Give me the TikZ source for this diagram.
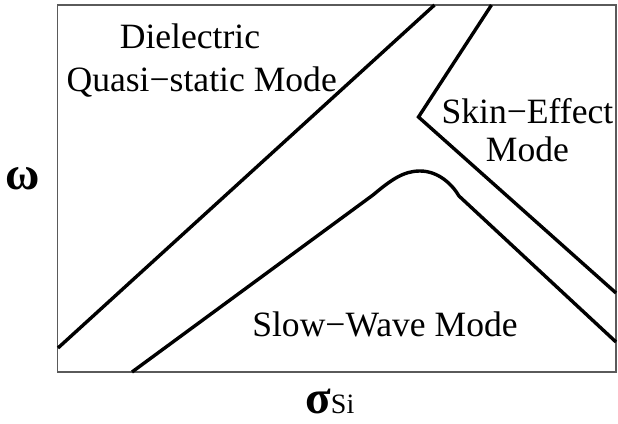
\documentclass[tikz,border=0pt]{standalone}
\usepackage{fontspec}
\setmainfont{Liberation Serif}
\usetikzlibrary{positioning}
\definecolor{framegray}{HTML}{5A5A5A}
\tikzset{
  frame/.style={draw=framegray,line width=0.75pt},
  bound/.style={draw=black,line width=1.7pt,line join=miter},
  region/.style={inner sep=0pt,anchor=base},
  axis/.style={inner sep=0pt,font=\fontsize{23.5}{26}\selectfont\bfseries}
}
\begin{document}
\begin{tikzpicture}[x=0.5pt,y=-0.5pt,font=\fontsize{17.8}{21}\selectfont]
\useasboundingbox (0,0) rectangle (618,424);
\draw[frame] (57.5,5) rectangle (616,372);
% mode boundaries
\draw[bound] (58,348) -- (434.5,5);
\draw[bound] (491.5,5) -- (418.5,117) -- (616,293);
\draw[bound] (132,372) -- (373,195) .. controls (392,179) and (404,171) .. (420,171)
  .. controls (438,171) and (452,184) .. (459,196) -- (616,342);
% region labels
\node[region] (diel) at (190,48.3) {Dielectric};
\node[region] (quasi) at (201.7,91.7) {Quasi−static Mode};
\node[region] (skin) at (527.4,123.3) {Skin−Effect};
\node[region] (skinmode) at (527.5,161.7) {Mode};
\node[region] (slow) at (385,336.7) {Slow−Wave Mode};
% axes
\node[axis] (omega) at (23,179) {ω};
\node[axis,anchor=base west] (sigma) at (305,413) {σ{\fontsize{14}{16}\selectfont\mdseries Si}};
\end{tikzpicture}
\end{document}
